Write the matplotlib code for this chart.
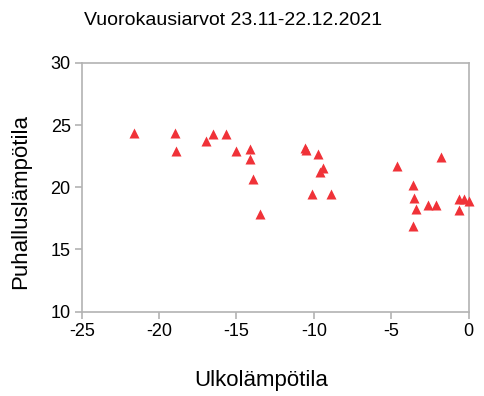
import matplotlib
matplotlib.use("Agg")
import matplotlib.pyplot as plt

plt.rcParams['font.family'] = ['Liberation Sans', 'DejaVu Sans']

# Vuorokausiarvot: ulkolämpötila vs puhalluslämpötila
ulko = [-21.6, -19.0, -18.9, -17.0, -16.5, -15.7, -15.0, -14.1, -14.1, -13.9,
        -13.5, -10.6, -10.5, -9.7, -9.4, -9.6, -10.1, -8.9, -4.6, -1.8,
        -3.6, -3.5, -3.4, -3.6, -2.6, -2.1, -0.6, -0.3, 0.0, -0.6]
puhallus = [24.4, 24.35, 22.95, 23.7, 24.25, 24.25, 22.9, 23.05, 22.25, 20.65,
            17.85, 23.2, 23.0, 22.65, 21.55, 21.25, 19.45, 19.45, 21.75, 22.4,
            20.2, 19.1, 18.25, 16.9, 18.6, 18.6, 19.05, 19.05, 18.9, 18.15]

x_ticks = [-25, -20, -15, -10, -5, 0]
y_ticks = [10, 15, 20, 25, 30]

fig = plt.figure(figsize=(4.84, 3.96), dpi=100)
ax = fig.add_axes([0.169, 0.213, 0.799, 0.628])

ax.scatter(ulko, puhallus, marker='^', s=52, color='#f03238', linewidths=0,
           clip_on=False, zorder=3)

ax.set_xlim(-25, 0)
ax.set_ylim(10, 30)
ax.set_xticks(x_ticks)
ax.set_yticks(y_ticks)
ax.set_xticklabels([str(t) for t in x_ticks])

for s in ax.spines.values():
    s.set_color('#b3b3b3')
    s.set_linewidth(1.2)
ax.tick_params(colors='#b3b3b3', labelcolor='black', labelsize=13,
               length=5, width=1.2, direction='out', pad=3)

ax.set_xlabel('Ulkolämpötila', fontsize=16, va='center')
ax.xaxis.set_label_coords(0.463, -0.275)
ax.set_ylabel('Puhalluslämpötila', fontsize=16, va='center')
ax.yaxis.set_label_coords(-0.159, 0.441)
fig.text(0.481, 0.949, 'Vuorokausiarvot 23.11-22.12.2021', fontsize=14,
         ha='center', va='center')

fig.savefig('out.png', dpi=100)
